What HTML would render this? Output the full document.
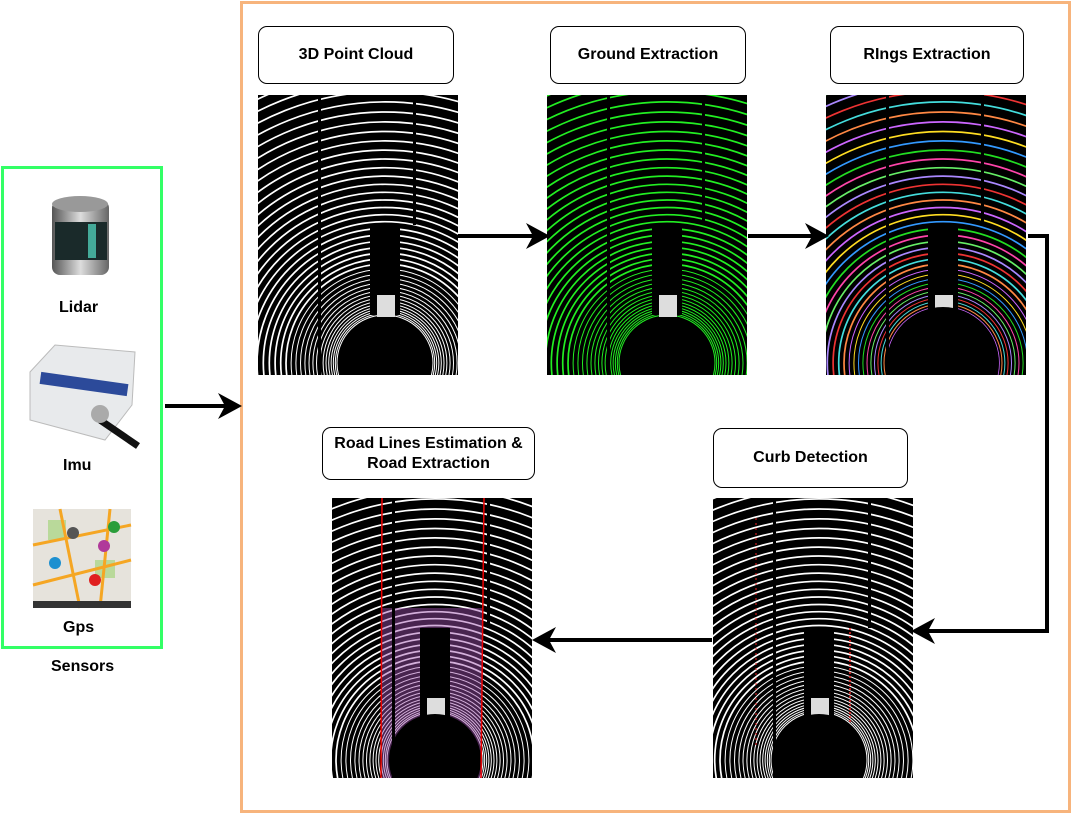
<!DOCTYPE html>
<html><head><meta charset="utf-8"><style>
html,body{margin:0;padding:0;background:#fff;width:1072px;height:814px;overflow:hidden;}
body{position:relative;font-family:"Liberation Sans",Arial,sans-serif;}
.lbl{position:absolute;border:1px solid #000;border-radius:9px;background:#fff;display:flex;align-items:center;justify-content:center;text-align:center;font-weight:bold;font-size:16px;line-height:20px;color:#000;box-sizing:border-box;}
.t{position:absolute;font-weight:bold;font-size:16px;color:#000;}
</style></head><body>
<svg id="s" width="1072" height="814" style="position:absolute;left:0;top:0;display:block">
<defs>
<marker id="ah" markerWidth="24" markerHeight="26" refX="20" refY="13" orient="auto" markerUnits="userSpaceOnUse" viewBox="0 0 24 26"><path d="M0,0 L24,13 L0,26 L7,13 z" fill="#000"/></marker>
<linearGradient id="cyl" x1="0" x2="1"><stop offset="0" stop-color="#555"/><stop offset=".5" stop-color="#ddd"/><stop offset="1" stop-color="#666"/></linearGradient>
</defs>
<rect x="241.5" y="2.5" width="828" height="809" fill="none" stroke="#f7b47c" stroke-width="3"/>
<rect x="2.5" y="167.5" width="159" height="480" fill="none" stroke="#33ff66" stroke-width="3"/>
<g id="imgs"></g>
<rect x="52" y="200" width="57" height="75" rx="8" fill="url(#cyl)"/>
<ellipse cx="80" cy="204" rx="28" ry="8" fill="#999"/>
<rect x="55" y="222" width="52" height="38" fill="#1a2a2a"/>
<rect x="88" y="224" width="8" height="34" fill="#4a9"/>
<path d="M30,372 L55,345 L135,352 L132,405 L105,440 L30,420 z" fill="#e8eaec" stroke="#bbb"/>
<rect x="40" y="378" width="88" height="12" fill="#2c4a9a" transform="rotate(8 84 384)"/>
<line x1="100" y1="420" x2="138" y2="446" stroke="#111" stroke-width="7"/>
<circle cx="100" cy="414" r="9" fill="#aaa"/>
<rect x="33" y="509" width="98" height="99" fill="#e6e3dc"/>
<rect x="48" y="520" width="18" height="20" fill="#b9d99a"/><rect x="95" y="560" width="20" height="18" fill="#b9d99a"/>
<path d="M33,545 L131,525 M33,585 L131,560 M60,509 L80,608 M110,509 L100,608" stroke="#f5a623" stroke-width="3" fill="none"/>
<rect x="33" y="601" width="98" height="7" fill="#333"/>
<circle cx="73" cy="533" r="6" fill="#555"/><circle cx="114" cy="527" r="6" fill="#2a9d3a"/><circle cx="104" cy="546" r="6" fill="#b03a9a"/><circle cx="55" cy="563" r="6" fill="#1e90d0"/><circle cx="95" cy="580" r="6" fill="#e02020"/>
<g stroke="#000" stroke-width="4" fill="none">
<line x1="165" y1="406" x2="238" y2="406" marker-end="url(#ah)"/>
<line x1="458" y1="236" x2="546" y2="236" marker-end="url(#ah)"/>
<line x1="748" y1="236" x2="825" y2="236" marker-end="url(#ah)"/>
<polyline points="1028,236 1047,236 1047,631 915,631" marker-end="url(#ah)"/>
<line x1="712" y1="640" x2="536" y2="640" marker-end="url(#ah)"/>
</g>
</svg>
<div class="lbl" style="left:258px;top:26px;width:196px;height:58px">3D Point Cloud</div>
<div class="lbl" style="left:550px;top:26px;width:196px;height:58px">Ground Extraction</div>
<div class="lbl" style="left:830px;top:26px;width:194px;height:58px">RIngs Extraction</div>
<div class="lbl" style="left:322px;top:427px;width:213px;height:53px">Road Lines Estimation &amp;<br>Road Extraction</div>
<div class="lbl" style="left:713px;top:428px;width:195px;height:60px">Curb Detection</div>
<div class="t" style="left:59px;top:299px">Lidar</div>
<div class="t" style="left:63px;top:457px">Imu</div>
<div class="t" style="left:63px;top:619px">Gps</div>
<div class="t" style="left:51px;top:658px">Sensors</div>
<script>
(function(){
var g=document.getElementById('imgs'),h='';
var rain=['#ff44aa','#22dd22','#3399ff','#ffdd22','#cc66ff','#ff8844','#44dddd','#ee3333','#aa88ff','#66ee66'];
function img(id,x,y,cx,cy,mode){
 h+='<clipPath id="c'+id+'"><rect x="'+x+'" y="'+y+'" width="200" height="280"/></clipPath><g clip-path="url(#c'+id+')"><rect x="'+x+'" y="'+y+'" width="200" height="280" fill="#000"/>';
 for(var k=0;k<48;k++){var r=48+1.6*k+0.12*k*k;var col='#fff';
  if(mode==1)col='#22ee22';
  if(mode==2)col=rain[k%rain.length];
  h+='<circle cx="'+(x+cx)+'" cy="'+(y+cy)+'" r="'+r.toFixed(1)+'" fill="none" stroke="'+col+'" stroke-width="'+(k<15?1:1.7)+'"/>';}
 if(mode==4){h+='<rect x="'+(x+50)+'" y="'+(y+110)+'" width="100" height="170" fill="#a050b0" opacity=".45"/>';}
 h+='<rect x="'+(x+cx-15)+'" y="'+(y+130)+'" width="30" height="90" fill="#000"/>';
 h+='<rect x="'+(x+cx-8)+'" y="'+(y+200)+'" width="18" height="22" fill="#ddd"/>';
 h+='<circle cx="'+(x+cx)+'" cy="'+(y+cy)+'" r="'+(mode==2?56:46)+'" fill="#000"/>';
 h+='<rect x="'+(x+60)+'" y="'+y+'" width="3" height="280" fill="#000"/><rect x="'+(x+155)+'" y="'+y+'" width="3" height="130" fill="#000"/>';
 if(mode==3){h+='<line x1="'+(x+43)+'" y1="'+(y+20)+'" x2="'+(x+43)+'" y2="'+(y+250)+'" stroke="#e22" stroke-width="1" stroke-dasharray="2,3"/><line x1="'+(x+137)+'" y1="'+(y+130)+'" x2="'+(x+137)+'" y2="'+(y+225)+'" stroke="#e22" stroke-width="1.5" stroke-dasharray="2,2"/>';}
 if(mode==4){h+='<line x1="'+(x+50)+'" y1="'+y+'" x2="'+(x+49)+'" y2="'+(y+280)+'" stroke="#e00" stroke-width="1.5"/><line x1="'+(x+152)+'" y1="'+y+'" x2="'+(x+149)+'" y2="'+(y+280)+'" stroke="#e00" stroke-width="1.5"/>';}
 h+='</g>';
}
img(1,258,95,127,268,0);
img(2,547,95,120,268,1);
img(3,826,95,117,268,2);
img(4,713,498,106,262,3);
img(5,332,498,103,262,4);
g.innerHTML=h;
})();
</script>
</body></html>
